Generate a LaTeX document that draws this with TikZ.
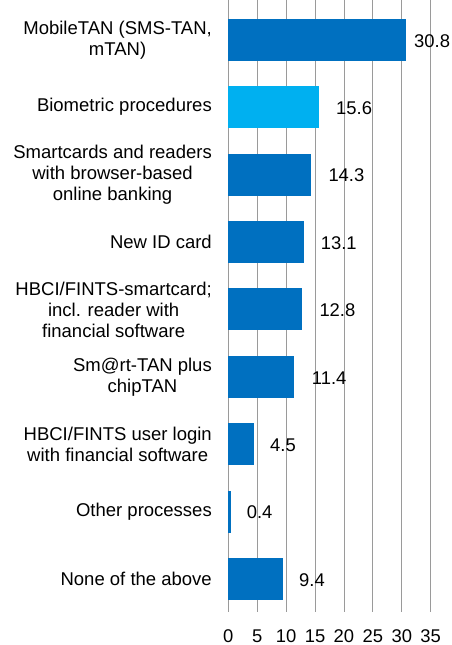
\documentclass[tikz,border=0pt]{standalone}
\usepackage{fontspec}
\setmainfont{Liberation Sans}
\definecolor{darkbar}{HTML}{0070C0}
\definecolor{lightbar}{HTML}{00B0F0}
\definecolor{gridgray}{HTML}{9A9A9A}
\begin{document}
\begin{tikzpicture}[x=1pt,y=-1pt,
  txt/.style={font=\fontsize{18.4}{21}\selectfont, inner sep=0pt, text=black},
  cat/.style={font=\fontsize{18.5}{21}\selectfont, inner sep=0pt, text=black, anchor=east, align=center},
  val/.style={txt, anchor=west},
  tick/.style={txt, anchor=center},
  grid/.style={draw=gridgray, line width=0.8pt},
  bar/.style={fill=darkbar, draw=none}]
\useasboundingbox (0,0) rectangle (451,645);
\pgfmathsetmacro{\xo}{228.3}
\pgfmathsetmacro{\sc}{5.783}
% gridlines
\foreach \v in {0,5,...,35}{
  \draw[grid] ({\xo+\v*\sc},0) -- ({\xo+\v*\sc},612);
  \node[tick] (t\v) at ({\xo+\v*\sc},636) {\v};
}
% bars
\foreach \i/\v/\c/\lx in {0/30.8/darkbar/414, 1/15.6/lightbar/336, 2/14.3/darkbar/328.3,
  3/13.1/darkbar/320.7, 4/12.8/darkbar/319.3, 5/11.4/darkbar/311.7,
  6/4.5/darkbar/270, 7/0.4/darkbar/246.7, 8/9.4/darkbar/299}{
  \pgfmathsetmacro{\yc}{39.8+67.4*\i}
  \fill[\c] (\xo,{\yc-21}) rectangle ({\xo+\v*\sc},{\yc+21});
  \node[val] (v\i) at (\lx,{\yc+1}) {\v};
}
% category labels
\node[cat] (c0) at (212,39.8) {MobileTAN (SMS-TAN,\\mTAN)};
\node[cat] (c1) at (212,107.2) {Biometric procedures};
\node[cat] (c2) at (212,174.6) {Smartcards and readers\\with browser-based\\online banking};
\node[cat] (c3) at (212,242.0) {New ID card};
\node[cat] (c4) at (212,309.4) {HBCI/FINTS-smartcard;\\incl. reader with\\financial software};
\node[cat] (c5) at (212,376.8) {Sm@rt-TAN plus\\chipTAN};
\node[cat] (c6) at (212,444.2) {HBCI/FINTS user login\\with financial software};
\node[cat] (c7) at (212,511.6) {Other processes};
\node[cat] (c8) at (212,579.0) {None of the above};
\end{tikzpicture}
\end{document}
